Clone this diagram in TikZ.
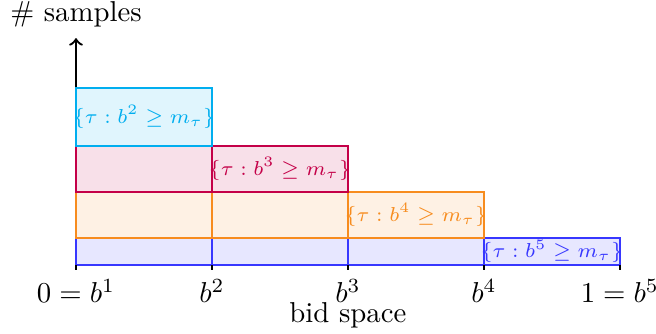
\documentclass[tikz,border=0pt]{standalone}
\usetikzlibrary{positioning}
\definecolor{cyanset}{RGB}{0,174,239}
\definecolor{redset}{RGB}{196,0,72}
\definecolor{orangeset}{RGB}{247,140,30}
\definecolor{blueset}{RGB}{55,55,255}
\begin{document}
\begin{tikzpicture}[
  x=1.66cm, y=1cm,
  every node/.style={font=\normalsize},
  cell/.style={draw=#1, fill=#1!12, line width=0.75pt},
  set label/.style={text=#1, font=\fontsize{7.5}{9}\selectfont, inner sep=0pt},
  tick label/.style={anchor=base}
]
\useasboundingbox (-0.559,-0.83) rectangle (4.266,3.236);

% Assen
\coordinate (origin) at (0,0);
\coordinate (ytop) at (0,2.77);
\draw[->, line width=0.8pt] (origin) -- (ytop);
\node[anchor=base] (ylabel) at (0,2.97) {\# samples};

% Rijen met intervallen
\foreach \k/\col/\lo/\hi in {5/blueset/0/0.33, 4/orangeset/0.33/0.89,
                              3/redset/0.89/1.45, 2/cyanset/1.45/2.16} {
  \pgfmathtruncatemacro{\last}{\k-1}
  \foreach \j in {1,...,\last}
    \draw[cell=\col] (\j-1,\lo) rectangle (\j,\hi);
  \node[set label=\col] (set\k) at (\k-1.5,{(\lo+\hi)/2})
    {$\{\tau : b^{\k} \geq m_\tau\}$};
}

% Streepjes en labels
\foreach \i in {0,...,4} {
  \coordinate (t\i) at (\i,0);
  \draw[line width=0.75pt] (t\i) -- ++(0,-0.06);
}
\node[tick label] (lb1) at (0,-0.46) {$0 = b^1$};
\node[tick label] (lb2) at (1,-0.46) {$b^2$};
\node[tick label] (lb3) at (2,-0.46) {$b^3$};
\node[tick label] (lb4) at (3,-0.46) {$b^4$};
\node[tick label] (lb5) at (4,-0.46) {$1 = b^5$};
\node[tick label] (xlabel) at (2,-0.70) {bid space};

\end{tikzpicture}
\end{document}
